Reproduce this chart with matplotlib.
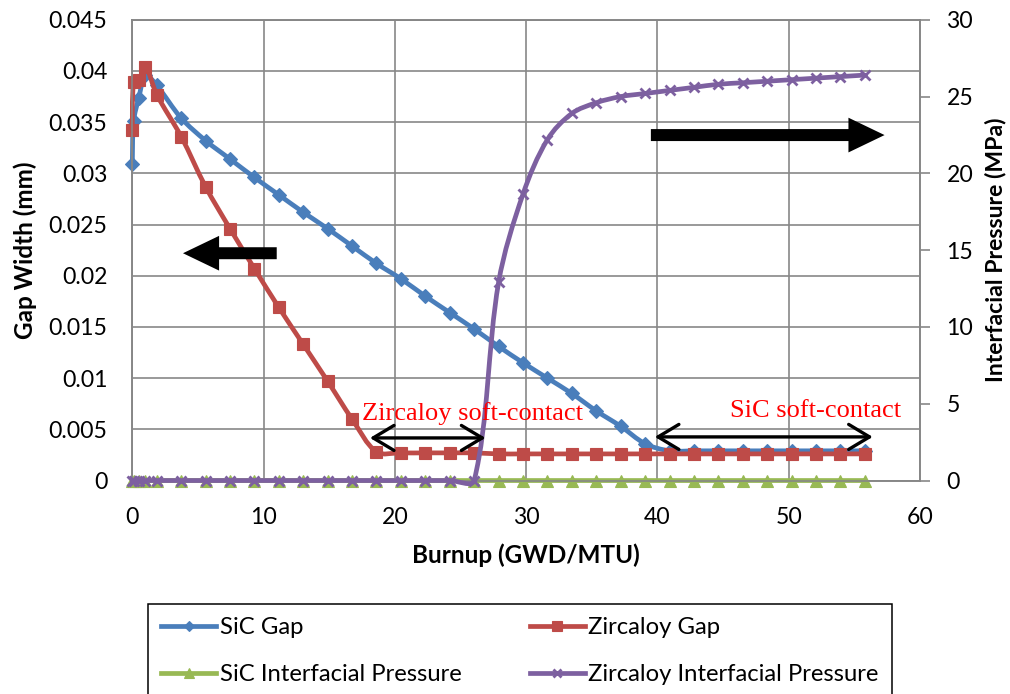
import numpy as np
import matplotlib
matplotlib.use("Agg")
import matplotlib.pyplot as plt
from matplotlib.path import Path
from matplotlib.patches import PathPatch, FancyArrowPatch
from matplotlib.lines import Line2D

# ---------------- data ----------------
burnup = [0, 0.1, 0.5, 1.0, 1.86, 3.72, 5.58, 7.44, 9.30, 11.16, 13.02, 14.88,
          16.74, 18.60, 20.46, 22.32, 24.18, 26.04, 27.90, 29.76, 31.62, 33.48,
          35.34, 37.20, 39.06, 40.92, 42.78, 44.64, 46.50, 48.36, 50.22, 52.08,
          53.94, 55.80]

sic_gap = [0.0309, 0.0351, 0.0374, 0.0396, 0.0386, 0.0354, 0.0332, 0.0314,
           0.0296, 0.0279, 0.0262, 0.0246, 0.0229, 0.0212, 0.0197, 0.0180,
           0.0164, 0.0148, 0.0131, 0.0115, 0.0100, 0.0085, 0.0068, 0.0053,
           0.0036, 0.0029, 0.0029, 0.0029, 0.0029, 0.0029, 0.0029, 0.0029,
           0.0029, 0.0029]

zr_gap = [0.0342, 0.0389, 0.0391, 0.0404, 0.0377, 0.0336, 0.0287, 0.0246,
          0.0207, 0.0169, 0.0133, 0.0097, 0.0060, 0.0028, 0.0027, 0.0027,
          0.0027, 0.0027, 0.0026, 0.0026, 0.0026, 0.0026, 0.0026, 0.0026,
          0.0026, 0.0026, 0.0026, 0.0026, 0.0026, 0.0026, 0.0026, 0.0026,
          0.0026, 0.0026]

sic_press = [0.0] * 34

zr_press = [0, 0, 0, 0, 0, 0, 0, 0, 0, 0, 0, 0, 0, 0, 0, 0, 0, 0,
            12.9, 18.65, 22.2, 23.9, 24.6, 25.0, 25.2, 25.4, 25.6, 25.8,
            25.9, 26.0, 26.1, 26.2, 26.3, 26.4]

series_names = ["SiC Gap", "Zircaloy Gap", "SiC Interfacial Pressure",
                "Zircaloy Interfacial Pressure"]

x_ticks = [0, 10, 20, 30, 40, 50, 60]
y_left_ticks = [0, 0.005, 0.01, 0.015, 0.02, 0.025, 0.03, 0.035, 0.04, 0.045]
y_left_labels = ["0", "0.005", "0.01", "0.015", "0.02", "0.025", "0.03",
                 "0.035", "0.04", "0.045"]
y_right_ticks = [0, 5, 10, 15, 20, 25, 30]

# ---------------- style ----------------
FONT = "Lato"
plt.rcParams["font.family"] = [FONT, "DejaVu Sans"]

C_BLUE = "#4A7EBB"
C_RED = "#BE4B48"
C_GREEN = "#98B954"
C_PURPLE = "#7D60A0"
C_GRID = "#878787"
LW = 3.4


def smooth_path(axis, xs, ys):
    """Excel-like smoothed line: cubic Bezier through the data points,
    tangents weighted by chord length in screen space."""
    tr = axis.transData
    pts = tr.transform(np.column_stack([xs, ys]).astype(float))
    n = len(pts)
    verts = [pts[0]]
    codes = [Path.MOVETO]

    def tangent(i):
        if i == 0:
            return pts[1] - pts[0], 0.0, np.linalg.norm(pts[1] - pts[0])
        if i == n - 1:
            return pts[-1] - pts[-2], np.linalg.norm(pts[-1] - pts[-2]), 0.0
        d1 = np.linalg.norm(pts[i] - pts[i - 1])
        d2 = np.linalg.norm(pts[i + 1] - pts[i])
        return pts[i + 1] - pts[i - 1], d1, d2

    for i in range(n - 1):
        t1, a1, b1 = tangent(i)
        t2, a2, b2 = tangent(i + 1)
        if i == 0:
            c1 = pts[i] + t1 / 6.0
        else:
            s = b1 / (a1 + b1) if (a1 + b1) > 0 else 0.5
            c1 = pts[i] + t1 * s / 3.0
        if i + 1 == n - 1:
            c2 = pts[i + 1] - t2 / 6.0
        else:
            s = a2 / (a2 + b2) if (a2 + b2) > 0 else 0.5
            c2 = pts[i + 1] - t2 * s / 3.0
        verts += [c1, c2, pts[i + 1]]
        codes += [Path.CURVE4] * 3
    verts = tr.inverted().transform(np.array(verts))
    return Path(verts, codes)


fig = plt.figure(figsize=(10.10, 6.94), dpi=100)
ax = fig.add_axes([0.1310, 0.3076, 0.7799, 0.6639])
ax2 = ax.twinx()

ax.set_xlim(0, 60)
ax.set_ylim(0, 0.045)
ax2.set_ylim(0, 30)

# grid
ax.set_xticks(x_ticks)
ax.set_yticks(y_left_ticks)
ax.set_yticklabels(y_left_labels)
ax2.set_yticks(y_right_ticks)
ax.grid(True, color=C_GRID, lw=1.2)
ax.set_axisbelow(True)
for a in (ax, ax2):
    for s in a.spines.values():
        s.set_color(C_GRID)
        s.set_linewidth(1.2)

ax.tick_params(axis="both", length=0, labelsize=16.6, colors="black")
ax.tick_params(axis="x", pad=19)
ax.tick_params(axis="y", pad=18)
ax2.tick_params(axis="y", length=7, width=1.2, color=C_GRID, labelsize=16.6,
                pad=12, direction="out")

# series
series = [
    (ax, burnup, sic_gap, C_BLUE, "D", 7.2, 2),
    (ax, burnup, zr_gap, C_RED, "s", 9.0, 3),
    (ax2, burnup, sic_press, C_GREEN, "^", 9.0, 2),
    (ax2, burnup, zr_press, C_PURPLE, "x", 7.5, 3),
]
handles = []
for (a, xs, ys, col, mk, ms, z) in series:
    a.add_patch(PathPatch(smooth_path(a, xs, ys), fill=False, edgecolor=col,
                          lw=LW, capstyle="round", joinstyle="round", zorder=z,
                          clip_on=False))
    mew = 2.0 if mk == "x" else 0.8
    a.plot(xs, ys, ls="none", marker=mk, ms=ms, color=col, mec=col, mfc=col,
           mew=mew, zorder=z + 0.1, clip_on=False)
    handles.append(Line2D([], [], color=col, lw=LW, marker=mk, ms=ms * 0.75,
                          mec=col, mfc=col, mew=mew))

# labels
ax.set_xlabel("Burnup (GWD/MTU)", fontsize=17.5, fontweight="bold", labelpad=11)
ax.set_ylabel("Gap Width (mm)", fontsize=17.5, fontweight="bold", labelpad=8)
ax2.set_ylabel("Interfacial Pressure (MPa)", fontsize=16.6, fontweight="bold",
               rotation=90, labelpad=8)

# annotations (in left-axis data coordinates, drawn on top)
T = ax.transData
ax2.text(17.5, 0.0065, "Zircaloy soft-contact", transform=T, color="red",
         fontsize=19, family="Liberation Serif", va="center", ha="left",
         zorder=10)
ax2.text(45.5, 0.0068, "SiC soft-contact", transform=T, color="red",
         fontsize=19, family="Liberation Serif", va="center", ha="left",
         zorder=10)

for (xa, xb, yy) in [(18.1, 26.9, 0.00416), (39.8, 56.4, 0.00426)]:
    ax2.add_patch(FancyArrowPatch((xa, yy), (xb, yy), transform=T,
                                  arrowstyle="<->,head_length=0.75,head_width=0.45",
                                  mutation_scale=20, lw=2.4, color="black",
                                  shrinkA=0, shrinkB=0, zorder=11))

for (xa, xb, yy) in [(11.0, 3.86, 0.0222), (39.5, 57.3, 0.03374)]:
    ax2.add_patch(FancyArrowPatch((xa, yy), (xb, yy), transform=T,
                                  arrowstyle="simple,head_length=1.04,head_width=1.0,tail_width=0.345",
                                  mutation_scale=25, color="black", lw=0,
                                  shrinkA=0, shrinkB=0, zorder=11))

# legend (row-wise order as in the reference)
order = [0, 2, 1, 3]
leg = fig.legend([handles[i] for i in order], [series_names[i] for i in order],
                 loc="upper left", ncol=2,
                 bbox_to_anchor=(148 / 1010, 1 - 604 / 694 - 0.01, 744 / 1010, 0.01),
                 mode="expand", fontsize=17.2, frameon=True, fancybox=False,
                 edgecolor="black", framealpha=1, handlelength=2.3,
                 handletextpad=0.15, labelspacing=1.08, borderpad=0.55,
                 borderaxespad=0, numpoints=1)
leg.get_frame().set_linewidth(1.1)

fig.savefig("out.png", dpi=100)
